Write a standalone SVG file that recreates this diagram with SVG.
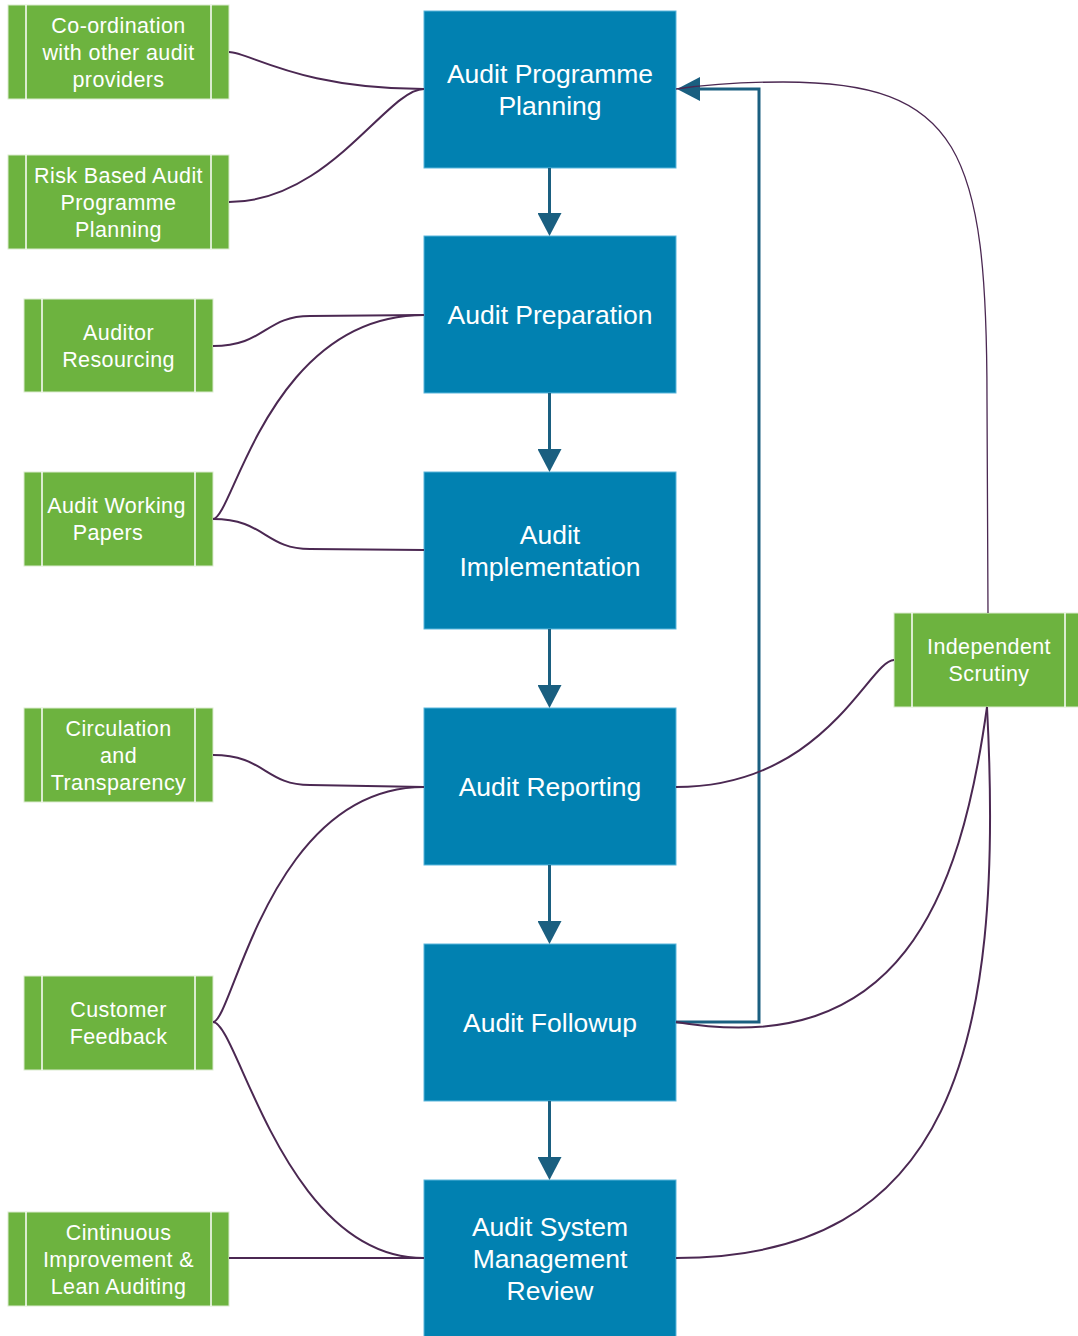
<svg xmlns="http://www.w3.org/2000/svg" width="1078" height="1336" viewBox="0 0 1078 1336">
<defs>
<style>
.step rect{fill:#0181b1;stroke:#5ab6dc;stroke-width:1}
.step text{fill:#fff;font-family:"Liberation Sans",Arial,sans-serif;font-size:26.5px;text-anchor:middle}
.src rect{fill:#6db33f;stroke:#dcebd0;stroke-width:1}
.src line{stroke:#fff;stroke-width:1.5}
.src text{fill:#fff;font-family:"Liberation Sans",Arial,sans-serif;font-size:21.5px;letter-spacing:0.4px;text-anchor:middle}
.flow{fill:none;stroke:#1a5f80;stroke-width:3;stroke-linejoin:miter}
.link{fill:none;stroke:#4b2852;stroke-width:2}
.thin{fill:none;stroke:#4b2852;stroke-width:1.3}
</style>
<marker id="arr" viewBox="0 0 23 24" refX="0" refY="12" markerWidth="23" markerHeight="24" markerUnits="userSpaceOnUse" orient="auto">
<path d="M0,0 L23,12 L0,24 Z" fill="#1a5f80"/>
</marker>
</defs>
<rect width="1078" height="1336" fill="#fff"/>

<g id="n-planning" class="step"><rect x="424" y="11" width="252" height="157"/><text x="550" y="83">Audit Programme</text><text x="550" y="115">Planning</text></g>
<g id="n-preparation" class="step"><rect x="424" y="236" width="252" height="157"/><text x="550" y="324">Audit Preparation</text></g>
<g id="n-implementation" class="step"><rect x="424" y="472" width="252" height="157"/><text x="550" y="544">Audit</text><text x="550" y="576">Implementation</text></g>
<g id="n-reporting" class="step"><rect x="424" y="708" width="252" height="157"/><text x="550" y="796">Audit Reporting</text></g>
<g id="n-followup" class="step"><rect x="424" y="944" width="252" height="157"/><text x="550" y="1032">Audit Followup</text></g>
<g id="n-review" class="step"><rect x="424" y="1180" width="252" height="160"/><text x="550" y="1236">Audit System</text><text x="550" y="1268">Management</text><text x="550" y="1300">Review</text></g>

<g id="n-coordination" class="src"><rect x="8" y="5" width="221" height="94"/><line x1="26" y1="5" x2="26" y2="99"/><line x1="211" y1="5" x2="211" y2="99"/><text x="118.5" y="32.5">Co-ordination</text><text x="118.5" y="59.5">with other audit</text><text x="118.5" y="86.5">providers</text></g>
<g id="n-risk" class="src"><rect x="8" y="155" width="221" height="94"/><line x1="26" y1="155" x2="26" y2="249"/><line x1="211" y1="155" x2="211" y2="249"/><text x="118.5" y="182.5">Risk Based Audit</text><text x="118.5" y="209.5">Programme</text><text x="118.5" y="236.5">Planning</text></g>
<g id="n-resourcing" class="src"><rect x="24" y="299" width="189" height="93"/><line x1="42" y1="299" x2="42" y2="392"/><line x1="195" y1="299" x2="195" y2="392"/><text x="118.5" y="339.5">Auditor</text><text x="118.5" y="366.5">Resourcing</text></g>
<g id="n-papers" class="src"><rect x="24" y="472" width="189" height="94"/><line x1="42" y1="472" x2="42" y2="566"/><line x1="195" y1="472" x2="195" y2="566"/><text x="116.5" y="513">Audit Working</text><text x="108" y="540">Papers</text></g>
<g id="n-circulation" class="src"><rect x="24" y="708" width="189" height="94"/><line x1="42" y1="708" x2="42" y2="802"/><line x1="195" y1="708" x2="195" y2="802"/><text x="118.5" y="735.5">Circulation</text><text x="118.5" y="762.5">and</text><text x="118.5" y="789.5">Transparency</text></g>
<g id="n-feedback" class="src"><rect x="24" y="976" width="189" height="94"/><line x1="42" y1="976" x2="42" y2="1070"/><line x1="195" y1="976" x2="195" y2="1070"/><text x="118.5" y="1017">Customer</text><text x="118.5" y="1044">Feedback</text></g>
<g id="n-improvement" class="src"><rect x="8" y="1212" width="221" height="94"/><line x1="26" y1="1212" x2="26" y2="1306"/><line x1="211" y1="1212" x2="211" y2="1306"/><text x="118.5" y="1239.5">Cintinuous</text><text x="118.5" y="1266.5">Improvement &amp;</text><text x="118.5" y="1293.5">Lean Auditing</text></g>
<g id="n-scrutiny" class="src"><rect x="894" y="613" width="189" height="94"/><line x1="912" y1="613" x2="912" y2="707"/><line x1="1065" y1="613" x2="1065" y2="707"/><text x="989" y="654">Independent</text><text x="989" y="681">Scrutiny</text></g>

<g id="connectors">
<path class="flow" d="M549.5,168 V213" marker-end="url(#arr)"/>
<path class="flow" d="M549.5,393 V449" marker-end="url(#arr)"/>
<path class="flow" d="M549.5,629 V685" marker-end="url(#arr)"/>
<path class="flow" d="M549.5,865 V921" marker-end="url(#arr)"/>
<path class="flow" d="M549.5,1101 V1157" marker-end="url(#arr)"/>
<path class="flow" d="M676,1022 H759 V89 H700" marker-end="url(#arr)"/>

<path class="link" d="M229,52 C249,52 299,89 424,89"/>
<path class="link" d="M229,202 C329,202 387,89 424,89"/>
<path class="link" d="M213,346 C265,346 265,316 310,316 L424,315"/>
<path class="link" d="M213,519 C233,519 269,315 424,315"/>
<path class="link" d="M213,519 C265,519 265,549 310,549 L424,550"/>
<path class="link" d="M213,755 C265,755 265,785 310,785 L424,787"/>
<path class="link" d="M213,1022 C233,1022 269,787 424,787"/>
<path class="link" d="M213,1022 C238,1022 284,1258 424,1258"/>
<path class="link" d="M229,1258 H424"/>
<path class="link" d="M676,787 C826,787 869,660 894,660"/>
<path class="link" d="M676,1022 C900,1060 960,900 987,707"/>
<path class="link" d="M676,1258 C950,1258 1005,1050 987,707"/>
<path class="thin" d="M676,89 Q725,82 783,82 C960,82 987,150 987,400 L988,613"/>
</g>
</svg>
